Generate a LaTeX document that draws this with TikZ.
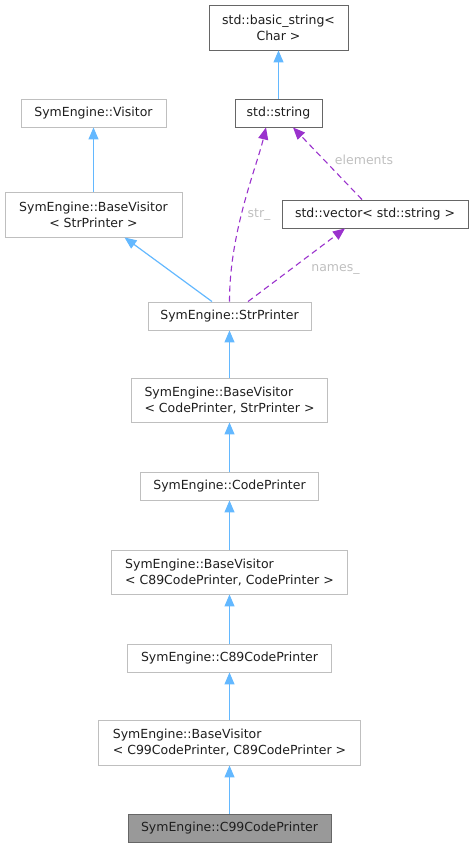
\documentclass[tikz,border=0pt]{standalone}
\usepackage{fontspec}
\setsansfont{DejaVu Sans}
\usepackage{xcolor}
\usepackage{tikz}
\usetikzlibrary{arrows.meta,calc}
\definecolor{dxblue}{RGB}{99,184,255}
\definecolor{dxpurple}{RGB}{154,50,205}
\definecolor{dxlight}{RGB}{191,191,191}
\definecolor{dxdark}{RGB}{102,102,102}
\definecolor{dxfill}{RGB}{153,153,153}
\definecolor{dxtext}{RGB}{30,30,30}

\begin{document}
\begin{tikzpicture}[
  x=1pt, y=-1pt,
  font=\sffamily\fontsize{12.5}{16}\selectfont,
  cls/.style={draw=dxlight, rectangle, line width=0.9pt, text=dxtext, inner sep=0pt, minimum height=28pt},
  ext/.style={cls, draw=dxdark},
  inh/.style={-{Triangle[length=12pt,width=10pt]}, color=dxblue, line width=1.2pt},
  use/.style={-{Triangle[length=12pt,width=10pt]}, color=dxpurple, line width=1.1pt, dash pattern=on 6pt off 4pt},
  lbl/.style={text=dxlight, font=\sffamily\fontsize{12.5}{16}\selectfont},
]
\useasboundingbox (0,0) rectangle (473,848);

% ============ std classes (top right) ============
\node[ext, minimum width=139pt, minimum height=45pt, align=center] (bstr) at (278.5,27.5) {std::basic\_string<\\Char >};
\node[ext, minimum width=87pt] (stdstr) at (278.5,113) {std::string};
\node[ext, minimum width=186pt] (vec) at (375,214) {std::vector< std::string >};

% ============ visitor branch (top left) ============
\node[cls, minimum width=145pt] (visitor) at (93.5,113) {SymEngine::Visitor};
\node[cls, minimum width=177pt, minimum height=45pt, align=center] (bvstr) at (93.5,214.5) {SymEngine::BaseVisitor\\< StrPrinter >};

% ============ main column ============
\node[cls, minimum width=163pt] (strp) at (229.5,316) {SymEngine::StrPrinter};
\node[cls, minimum width=196pt, minimum height=44pt, align=left] (bvcode) at (229.5,400) {SymEngine::BaseVisitor\\< CodePrinter, StrPrinter >};
\node[cls, minimum width=178pt] (codep) at (229.5,486) {SymEngine::CodePrinter};
\node[cls, minimum width=236pt, minimum height=44pt, align=left] (bvc89) at (229.5,572) {SymEngine::BaseVisitor\\< C89CodePrinter, CodePrinter >};
\node[cls, minimum width=204pt] (c89) at (229.5,658) {SymEngine::C89CodePrinter};
\node[cls, minimum width=262pt, minimum height=45pt, align=left] (bvc99) at (229.5,742.5) {SymEngine::BaseVisitor\\< C99CodePrinter, C89CodePrinter >};
\node[ext, fill=dxfill, minimum width=203pt] (c99) at (229.5,828) {SymEngine::C99CodePrinter};

% ===================== INHERITANCE =====================
\draw[inh] (stdstr) -- (bstr);
\draw[inh] (bvstr) -- (visitor);
\draw[inh] ([xshift=-17.5pt]strp.north) -- ([xshift=31pt]bvstr.south);
\draw[inh] (bvcode) -- (strp);
\draw[inh] (codep) -- (bvcode);
\draw[inh] (bvc89) -- (codep);
\draw[inh] (c89) -- (bvc89);
\draw[inh] (bvc99) -- (c89);
\draw[inh] (c99) -- (bvc99);

% ===================== MEMBERS =====================
% str_
\draw[use] (strp.north) .. controls ($(strp.north)+(0,-70)$) and ($(stdstr.south)+(-22,40)$) .. ([xshift=-12.5pt]stdstr.south);
\node[lbl] (lstr) at (259,215) {str\_};

% names_
\draw[use] ([xshift=18.5pt]strp.north) -- ([xshift=-30pt]vec.south);
\node[lbl] (lnames) at (335.5,269) {names\_};

% elements
\draw[use] ([xshift=-13pt]vec.north) -- ([xshift=14.5pt]stdstr.south);
\node[lbl] (lelem) at (364,160) {elements};

\end{tikzpicture}
\end{document}
